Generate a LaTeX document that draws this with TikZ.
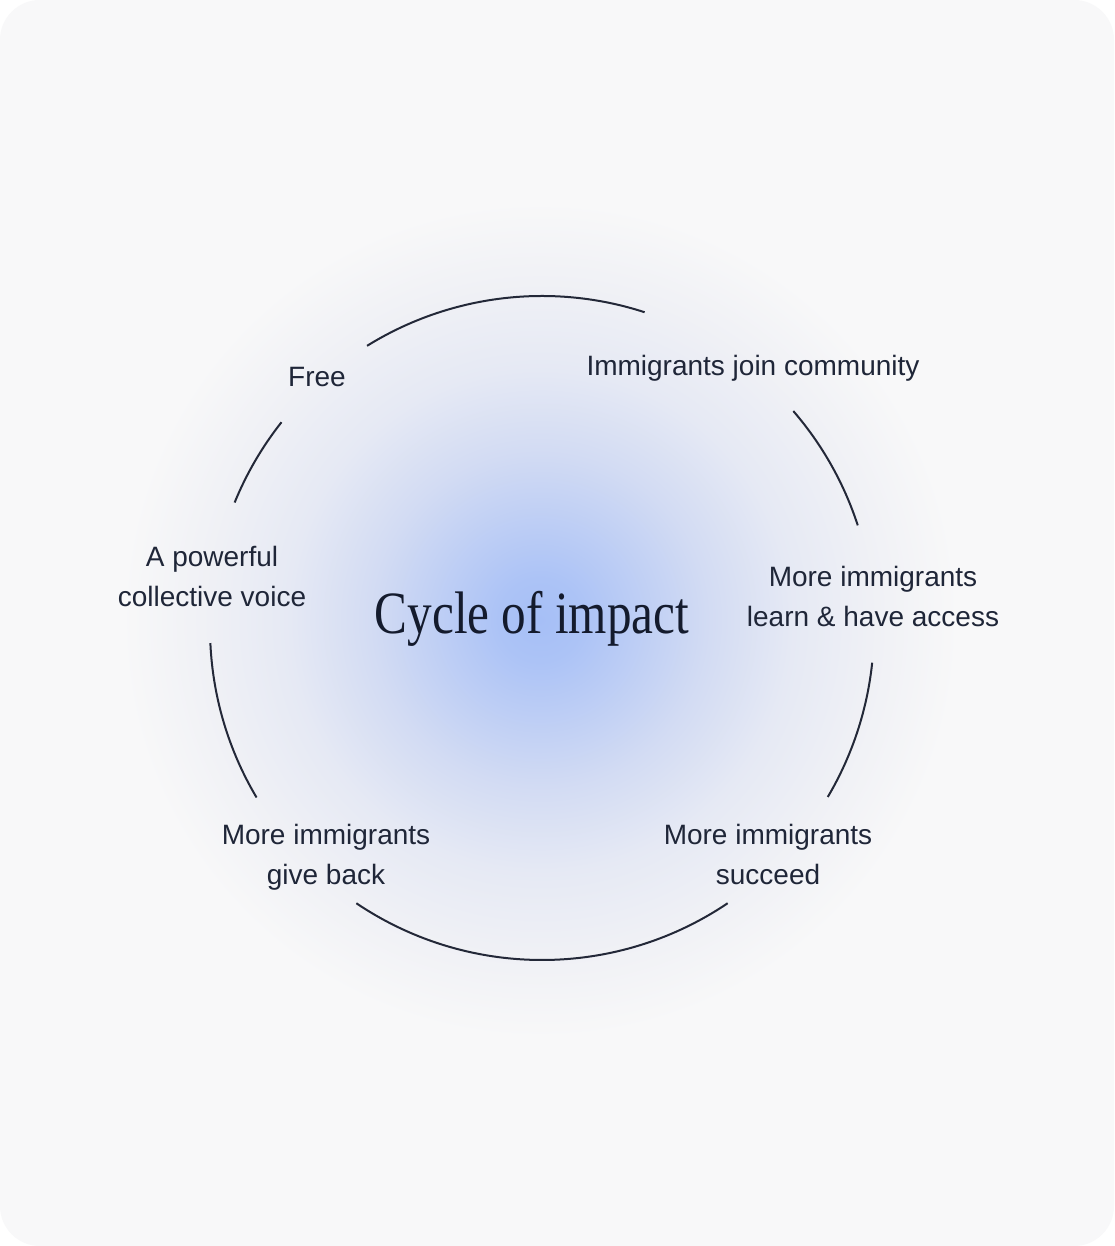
\documentclass[tikz,border=0pt]{standalone}
\usepackage{fontspec}
\setmainfont{Liberation Sans}
\newfontfamily\titlefont[FakeStretch=0.82]{Liberation Serif}
\usetikzlibrary{calc}
\definecolor{bgcol}{HTML}{F8F8F9}
\definecolor{inkcol}{HTML}{1F2638}
\definecolor{titlecol}{HTML}{141B2D}
\definecolor{linecol}{HTML}{232838}
\pgfdeclareradialshading{glow}{\pgfpoint{0bp}{0bp}}{%
rgb(0bp)=(0.651,0.749,0.965);
rgb(2.5bp)=(0.675,0.765,0.965);
rgb(5bp)=(0.725,0.796,0.961);
rgb(10bp)=(0.825,0.860,0.952);
rgb(15bp)=(0.900,0.914,0.957);
rgb(20bp)=(0.940,0.944,0.962);
rgb(25bp)=(0.973,0.973,0.976);
rgb(50bp)=(0.973,0.973,0.976)}
\tikzset{
  lbl/.style={text=inkcol, font=\fontsize{28}{40}\selectfont, align=center, inner sep=0pt},
  cyc/.style={draw=linecol, line width=2pt},
}
\begin{document}
\begin{tikzpicture}[x=1pt,y=1pt]
\useasboundingbox (0,0) rectangle (1114,1246);
\fill[white] (0,0) rectangle (1114,1246);
\fill[bgcol, rounded corners=40pt] (0,0) rectangle (1114,1246);
\coordinate (g) at (540,626);
\shade[shading=glow] (g) circle[radius=420pt];
\coordinate (c) at (542,618);

\node[lbl] (free) at (317,869) {Free};
\node[lbl] (join) at (753,878) {Immigrants join community};
\node[lbl] (learn) at (873,649) {More immigrants\\learn \& have access};
\node[lbl] (succeed) at (768,392) {More immigrants\\succeed};
\node[lbl] (give) at (326,389) {More immigrants\\give back};
\node[lbl] (voice) at (212,669) {A powerful\\collective voice};
\node[text=titlecol, font=\titlefont\fontsize{60}{60}\selectfont, inner sep=0pt] (title) at (532,627) {Cycle of impact};

\coordinate (a1) at ($(c)+(121.8:332pt)$);
\coordinate (a2) at ($(c)+(40.8:332pt)$);
\coordinate (a3) at ($(c)+(-6:332pt)$);
\coordinate (a4) at ($(c)+(-56:332pt)$);
\coordinate (a5) at ($(c)+(-149.3:332pt)$);
\coordinate (a6) at ($(c)+(157.8:332pt)$);

\draw[cyc] (a1) arc[start angle=121.8, end angle=72, radius=332pt];
\draw[cyc] (a2) arc[start angle=40.8, end angle=18, radius=332pt];
\draw[cyc] (a3) arc[start angle=-6, end angle=-30.6, radius=332pt];
\draw[cyc] (a4) arc[start angle=-56, end angle=-124, radius=332pt];
\draw[cyc] (a5) arc[start angle=-149.3, end angle=-177.4, radius=332pt];
\draw[cyc] (a6) arc[start angle=157.8, end angle=141.7, radius=332pt];
\end{tikzpicture}
\end{document}
